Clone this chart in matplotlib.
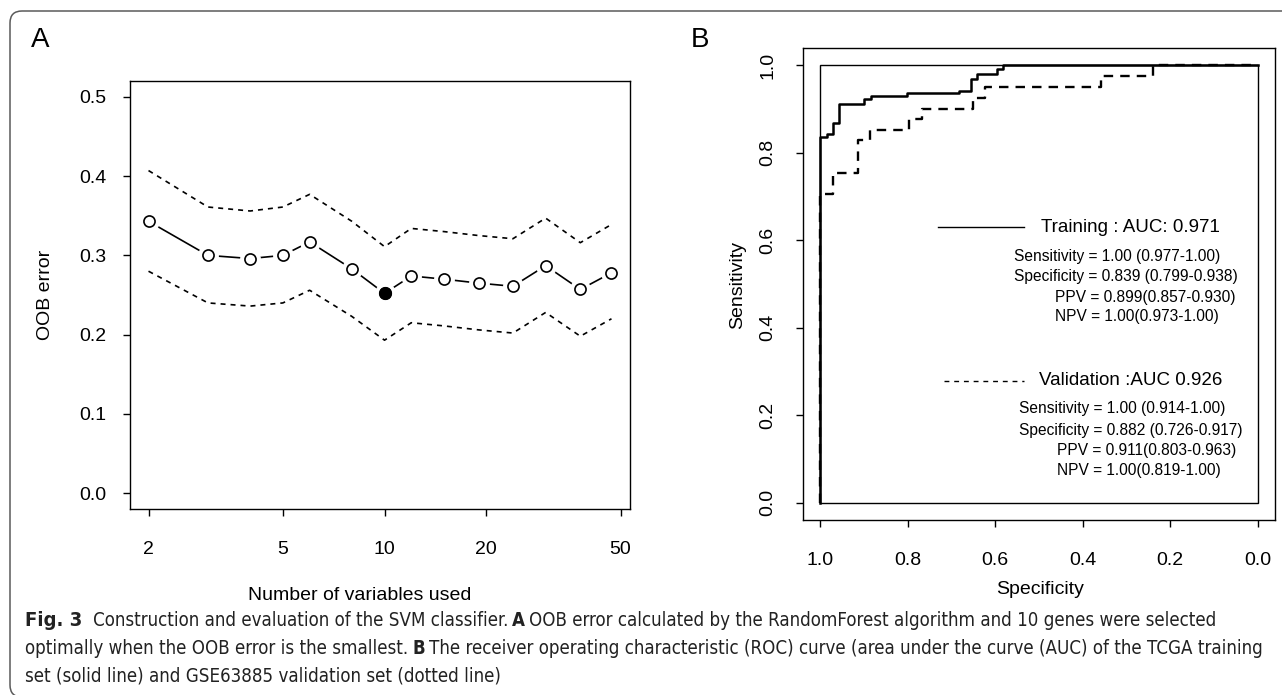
import numpy as np
import matplotlib
matplotlib.use('Agg')
import matplotlib.pyplot as plt
from matplotlib.patches import FancyBboxPatch, Rectangle

plt.rcParams['font.family'] = ['Liberation Sans', 'DejaVu Sans']

# panel A: OOB error vs number of variables
n_vars = [2, 3, 4, 5, 6, 8, 10, 12, 15, 19, 24, 30, 38, 47]
oob = [0.343, 0.300, 0.296, 0.300, 0.317, 0.283, 0.252, 0.274, 0.270, 0.265, 0.261, 0.287, 0.257, 0.278]
oob_hi = [0.407, 0.361, 0.356, 0.361, 0.377, 0.343, 0.311, 0.334, 0.330, 0.325, 0.321, 0.347, 0.316, 0.339]
oob_lo = [0.280, 0.240, 0.236, 0.240, 0.256, 0.223, 0.193, 0.215, 0.211, 0.206, 0.202, 0.228, 0.198, 0.220]
best_n = 10
best_err = 0.252

# panel B: ROC curves (specificity, sensitivity)
train_spec = [1.0, 1.0, 0.986, 0.972, 0.957, 0.900, 0.885, 0.801, 0.683, 0.656, 0.641, 0.597, 0.582, 0.0]
train_sens = [0.0, 0.837, 0.844, 0.869, 0.913, 0.923, 0.930, 0.937, 0.942, 0.968, 0.981, 0.991, 1.0, 1.0]
valid_spec = [1.0, 1.0, 0.971, 0.914, 0.887, 0.797, 0.767, 0.651, 0.624, 0.357, 0.240, 0.0]
valid_sens = [0.0, 0.707, 0.754, 0.829, 0.853, 0.878, 0.901, 0.926, 0.951, 0.975, 1.0, 1.0]

train_lines = ['Sensitivity = 1.00 (0.977-1.00)', 'Specificity = 0.839 (0.799-0.938)',
               'PPV = 0.899(0.857-0.930)', 'NPV = 1.00(0.973-1.00)']
valid_lines = ['Sensitivity = 1.00 (0.914-1.00)', 'Specificity = 0.882 (0.726-0.917)',
               'PPV = 0.911(0.803-0.963)', 'NPV = 1.00(0.819-1.00)']

W, H = 1282, 695
fig = plt.figure(figsize=(W / 100, H / 100), dpi=100)

def px(x0, y0, x1, y1):
    return [x0 / W, 1 - y1 / H, (x1 - x0) / W, (y1 - y0) / H]

def fx(x):
    return x / W

def fy(y):
    return 1 - y / H

# ---------------- panel A ----------------
ax = fig.add_axes(px(130, 81, 630, 509))
ax.set_xscale('log')
L = np.log10(47 / 2)
ax.set_xlim(10 ** (np.log10(2) - 0.04 * L), 10 ** (np.log10(47) + 0.04 * L))
ax.set_ylim(-0.02, 0.52)
ax.plot(n_vars, oob_hi, color='black', lw=1.2, ls=(0, (3, 3)))
ax.plot(n_vars, oob_lo, color='black', lw=1.2, ls=(0, (3, 3)))
ax.plot(n_vars, oob, color='black', lw=1.2)
ax.plot(n_vars, oob, ls='none', marker='o', ms=14, mfc='white', mec='white')
ax.plot(n_vars, oob, ls='none', marker='o', ms=8, mfc='white', mec='black', mew=1.2)
ax.plot([best_n], [best_err], ls='none', marker='o', ms=8.5, mfc='black', mec='black')
ax.text(470, 0.193 - 0.012, 'OOB error = 0.193', color='red', fontsize=11.5, ha='center', va='center')
ax.text(484, 0.193 - 0.039, 'Number of variables = 10', color='red', fontsize=11.5, ha='center', va='center')
ax.set_xticks([2, 5, 10, 20, 50])
ax.set_xticklabels(['2', '5', '10', '20', '50'])
ax.xaxis.set_minor_locator(matplotlib.ticker.NullLocator())
ax.set_yticks([0.0, 0.1, 0.2, 0.3, 0.4, 0.5])
ax.set_yticklabels(['0.0', '0.1', '0.2', '0.3', '0.4', '0.5'])
ax.tick_params(direction='out', length=5, width=1, labelsize=14)
ax.tick_params(axis='x', pad=18)
ax.tick_params(axis='y', pad=12)
for s in ax.spines.values():
    s.set_linewidth(1)
fig.text(fx(360), fy(595), 'Number of variables used', fontsize=14, ha='center', va='center')
fig.text(fx(45), fy(295), 'OOB error', fontsize=14, ha='center', va='center', rotation=90)
fig.text(fx(40), fy(40), 'A', fontsize=20, ha='center', va='center')

# ---------------- panel B ----------------
bx = fig.add_axes(px(803, 48, 1275, 520))
bx.set_xlim(1.04, -0.04)
bx.set_ylim(-0.04, 1.04)
bx.add_patch(Rectangle((0, 0), 1, 1, fill=False, ec='black', lw=1))
bx.plot(valid_spec, valid_sens, color='black', lw=1.7, ls=(0, (4, 3)), drawstyle='steps-post')
bx.plot(train_spec, train_sens, color='black', lw=1.8, drawstyle='steps-post')
ticks = [0.0, 0.2, 0.4, 0.6, 0.8, 1.0]
bx.set_xticks(ticks)
bx.set_xticklabels(['%.1f' % t for t in ticks])
bx.set_yticks(ticks)
bx.set_yticklabels(['%.1f' % t for t in ticks], rotation=90, va='center')
bx.tick_params(direction='out', length=5, width=1, labelsize=14)
bx.tick_params(axis='x', pad=18)
bx.tick_params(axis='y', pad=14)
for s in bx.spines.values():
    s.set_linewidth(1)
fig.text(fx(1040), fy(589), 'Specificity', fontsize=14, ha='center', va='center')
fig.text(fx(738), fy(285), 'Sensitivity', fontsize=14, ha='center', va='center', rotation=90)
fig.text(fx(700), fy(40), 'B', fontsize=20, ha='center', va='center')

# legend block
fig.add_artist(plt.Line2D([fx(938), fx(1024)], [fy(227), fy(227)], color='black', lw=1))
fig.text(fx(1041), fy(228), 'Training : AUC: 0.971', fontsize=13.5, ha='left', va='center')
for txt, x, y in zip(train_lines, [1014, 1014, 1055, 1055], [256, 277, 297, 317]):
    fig.text(fx(x), fy(y), txt, fontsize=11.2, ha='left', va='center')
fig.add_artist(plt.Line2D([fx(944), fx(1024)], [fy(381), fy(381)], color='black', lw=1, ls=(0, (3.5, 3.5))))
fig.text(fx(1039), fy(380), 'Validation :AUC 0.926', fontsize=13.5, ha='left', va='center')
for txt, x, y in zip(valid_lines, [1019, 1019, 1057, 1057], [409, 430, 450, 470]):
    fig.text(fx(x), fy(y), txt, fontsize=11.2, ha='left', va='center')

# frame around the figure
fig.add_artist(FancyBboxPatch((0.10, -0.02), 13.0, 6.86, boxstyle='round,pad=0,rounding_size=0.12',
                              transform=fig.dpi_scale_trans, fill=False, ec='#5a5a5a', lw=1.1))

# caption
cap_font = ['DejaVu Sans']
cap = [
    (621, [('Fig. 3', True, 10), ('Construction and evaluation of the SVM classifier.', False, 4),
           ('A', True, 4), ('OOB error calculated by the RandomForest algorithm and 10 genes were selected', False, 0)]),
    (649, [('optimally when the OOB error is the smallest.', False, 4), ('B', True, 4),
           ('The receiver operating characteristic (ROC) curve (area under the curve (AUC) of the TCGA training', False, 0)]),
    (676, [('set (solid line) and GSE63885 validation set (dotted line)', False, 0)]),
]

def draw_caption(size):
    r = fig.canvas.get_renderer()
    objs = []
    ends = []
    for y, runs in cap:
        x = 25
        for s, bold, gap in runs:
            t = fig.text(fx(x), fy(y), s, fontsize=size * (1.08 if s == 'Fig. 3' else 1.0),
                         fontweight='bold' if bold else 'normal', fontstretch='condensed',
                         family=cap_font, ha='left', va='center', color='#222222')
            objs.append(t)
            bb = t.get_window_extent(renderer=r)
            x = bb.x1 + gap * size / 13.0
        ends.append(x)
    return objs, ends

objs, ends = draw_caption(13)
scale = (1262 - 25) / (ends[1] - 25)
for t in objs:
    t.remove()
draw_caption(13 * scale)

fig.savefig('out.png', dpi=100)
